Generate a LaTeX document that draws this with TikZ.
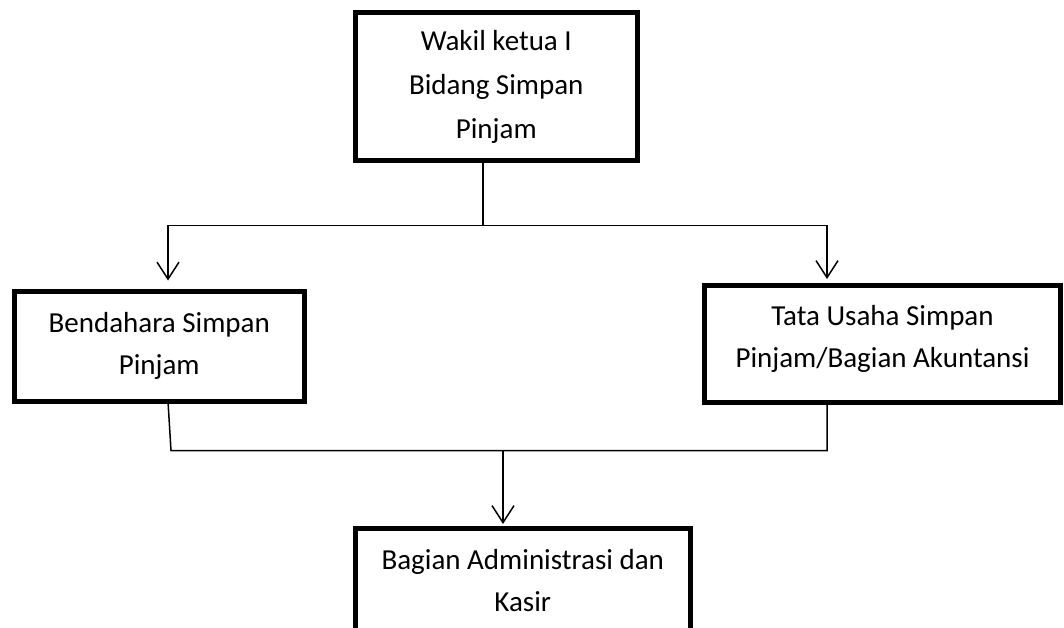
\documentclass[tikz,border=0pt]{standalone}
\usepackage{fontspec}
\setmainfont{Carlito}
\usetikzlibrary{arrows.meta}
\begin{document}
\begin{tikzpicture}[x=1pt,y=-1pt,
  box/.style={draw, line width=5pt, outer sep=0pt, inner sep=0pt, align=center,
    font=\fontsize{29}{42}\selectfont},
  conn/.style={line width=1.5pt},
  arr/.style={conn, -{Straight Barb[length=17pt,width=22pt]}}]
\useasboundingbox (0,0) rectangle (1064,628);
\clip (0,0) rectangle (1064,628);
\fill[white] (0,0) rectangle (1064,628);
% boxes
\node[box, minimum width=281.5pt, minimum height=148pt,
  font=\fontsize{29}{44}\selectfont] (top) at (496.25,86.5)
  {Wakil ketua I\\Bidang Simpan\\Pinjam};
\node[box, minimum width=290.5pt, minimum height=110.5pt] (lb) at (159.25,346.25)
  {Bendahara Simpan\\Pinjam};
\node[box, minimum width=356pt, minimum height=117pt, text depth=16pt] (rb) at (882.5,344)
  {Tata Usaha Simpan\\Pinjam/Bagian Akuntansi};
\node[box, minimum width=334.5pt, minimum height=106pt] (bb) at (522.75,581)
  {Bagian Administrasi dan\\Kasir};
% upper connectors
\coordinate (j) at (483,225.5);
\coordinate (jl) at (168,225.5);
\coordinate (jr) at (827,225.5);
\draw[conn] (top.south -| j) -- (j);
\draw[conn] (jl) -- (jr);
\draw[arr, shorten >=10.5pt] (jl) -- (jl |- lb.north);
\draw[arr, shorten >=6.5pt] (jr) -- (jr |- rb.north);
% lower connectors
\coordinate (kl) at (171,450.5);
\coordinate (kr) at (827,450.5);
\coordinate (kb) at (503,450.5);
\draw[conn] (jl |- lb.south) -- (kl) -- (kr) -- (rb.south -| kr);
\draw[arr, shorten >=4pt] (kb) -- (bb.north -| kb);
\end{tikzpicture}
\end{document}
